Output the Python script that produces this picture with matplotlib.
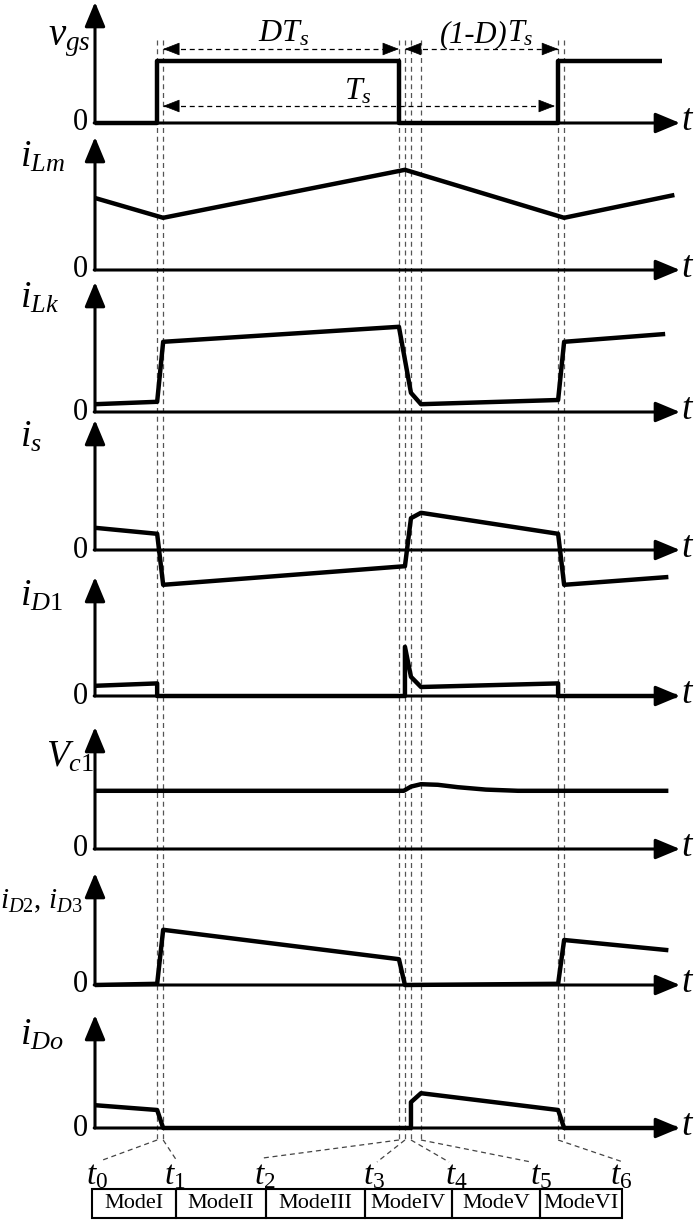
import matplotlib
matplotlib.use('Agg')
import matplotlib.pyplot as plt
from matplotlib.patches import Rectangle

plt.rcParams['font.family'] = ['Liberation Serif', 'DejaVu Serif']
plt.rcParams['mathtext.fontset'] = 'custom'
plt.rcParams['mathtext.rm'] = 'Liberation Serif'
plt.rcParams['mathtext.it'] = 'Liberation Serif:italic'
plt.rcParams['mathtext.bf'] = 'Liberation Serif:bold'

# ---------------- data (time in us, Ts = 10 us; amplitudes normalised) ----------------
event_times = [0.0, 0.15, 6.03, 6.18, 6.33, 6.58, 10.0, 10.15]
t_labels = [r'$t_{\mathit{0}}$', r'$t_{\mathit{1}}$', r'$t_{\mathit{2}}$', r'$t_{\mathit{3}}$',
            r'$t_{\mathit{4}}$', r'$t_{\mathit{5}}$', r'$t_{\mathit{6}}$']
mode_names = ['ModeI', 'ModeII', 'ModeIII', 'ModeIV', 'ModeV', 'ModeVI']

vgs_t = [-1.55, 0.0, 0.0, 6.03, 6.03, 10.0, 10.0, 12.6]
vgs_v = [0.0, 0.0, 1.03, 1.03, 0.0, 0.0, 1.03, 1.03]

iLm_t = [-1.55, 0.15, 6.18, 10.15, 12.9]
iLm_v = [1.2, 0.87, 1.67, 0.87, 1.25]

iLk_t = [-1.55, 0.0, 0.15, 6.03, 6.33, 6.58, 10.0, 10.15, 12.67]
iLk_v = [0.13, 0.17, 1.17, 1.42, 0.32, 0.13, 0.2, 1.17, 1.3]

is_t = [-1.55, 0.0, 0.15, 6.18, 6.33, 6.58, 10.0, 10.15, 12.75]
is_v = [0.37, 0.27, -0.58, -0.27, 0.53, 0.62, 0.27, -0.58, -0.45]

iD1_t = [-1.55, 0.0, 0.0, 6.18, 6.18, 6.33, 6.58, 10.0, 10.0, 12.95]
iD1_v = [0.17, 0.21, 0.0, 0.0, 0.82, 0.32, 0.15, 0.21, 0.0, 0.0]

vc1_t = [-1.55, 6.15, 6.33, 6.58, 7.0, 7.5, 8.2, 9.0, 12.75]
vc1_v = [0.97, 0.97, 1.04, 1.08, 1.07, 1.03, 0.99, 0.97, 0.97]

iD2_t = [-1.55, 0.0, 0.15, 6.03, 6.18, 10.0, 10.15, 12.75]
iD2_v = [0.0, 0.02, 0.92, 0.43, 0.0, 0.02, 0.75, 0.58]

iDo_t = [-1.55, 0.0, 0.15, 6.33, 6.33, 6.58, 10.0, 10.15, 12.95]
iDo_v = [0.38, 0.3, 0.0, 0.0, 0.43, 0.58, 0.3, 0.0, 0.0]

series_t = [vgs_t, iLm_t, iLk_t, is_t, iD1_t, vc1_t, iD2_t, iDo_t]
series_v = [vgs_v, iLm_v, iLk_v, is_v, iD1_v, vc1_v, iD2_v, iDo_v]
panel_labels = [r'$v_{gs}$', r'$i_{Lm}$', r'$i_{Lk}$', r'$i_{s}$', r'$i_{\mathit{D1}}$',
                r'$V_{\mathit{c1}}$', r'$i_{\mathit{D2}}$, $i_{\mathit{D3}}$', r'$i_{Do}$']

# ---------------- layout ----------------
W, H = 700, 1221
fig = plt.figure(figsize=(W / 100, H / 100), dpi=100)

AX_L, AX_R = 95, 680
T_L, T_R = -1.55, 13.04
PPU = (AX_R - AX_L) / (T_R - T_L)
YU = 60.0
PAD = 0.7
tops = [2, 137, 282, 420, 577, 727, 873, 1015]
bases = [123, 270, 412, 550, 696, 849, 985, 1128]
lab_pos = [(48, 45, 28), (20, 167, 27), (20, 308, 27), (20, 447, 27), (20, 606, 27),
           (46, 767, 27), (0, 908, 21), (20, 1045, 27)]


def tpx(px):
    return T_L + (px - AX_L) / PPU


def ftext(x, y, s, **kw):
    fig.text(x / W, 1 - y / H, s, **kw)


bg = fig.add_axes([0, 0, 1, 1])
bg.set_xlim(tpx(0), tpx(W))
bg.set_ylim(H, 0)
bg.axis('off')

# vertical dashed event lines
bg.vlines(event_times, 40, 1140, colors='#555555', linestyles=(0, (4, 3)), lw=0.9)

# dimension arrows
def dim(ta, tb, y):
    bg.plot([ta, tb], [y, y], ls=(0, (4, 3)), color='k', lw=0.9)
    hp = dict(arrowstyle='-|>,head_length=0.9,head_width=0.35', mutation_scale=12,
              color='k', lw=0.5, shrinkA=0, shrinkB=0)
    bg.annotate('', xy=(ta, y), xytext=(ta + 14 / PPU, y), arrowprops=hp)
    bg.annotate('', xy=(tb, y), xytext=(tb - 14 / PPU, y), arrowprops=hp)

dim(event_times[1], event_times[2], 49)
dim(event_times[3], event_times[6], 49)
dim(event_times[1], event_times[6] - 0.08, 106)
ftext(284, 42, r'$DT_s$', fontsize=23, ha='center', va='baseline')
fig.text(508 / W, 1 - 42 / H, '(1-D)', fontsize=22, style='italic', ha='right', va='baseline')
ftext(507, 42, r'$T_s$', fontsize=22, ha='left', va='baseline')
ftext(358, 99, r'$T_s$', fontsize=23, ha='center', va='baseline')

# panels
for i in range(8):
    top, base = tops[i], bases[i]
    bottom_px = base + PAD * YU
    ax = fig.add_axes([AX_L / W, 1 - bottom_px / H, (AX_R - AX_L) / W, (bottom_px - top) / H])
    ytop = (base - top) / YU
    ax.set_xlim(T_L, T_R)
    ax.set_ylim(-PAD, ytop)
    ax.axis('off')
    ap = dict(arrowstyle='-|>,head_length=0.6,head_width=0.25', lw=2.2, color='k',
              mutation_scale=25, shrinkA=0, shrinkB=0)
    ax.annotate('', xy=(T_L, ytop), xytext=(T_L, 0), arrowprops=ap, annotation_clip=False)
    ax.annotate('', xy=(T_R, 0), xytext=(T_L - 0.02, 0), arrowprops=ap, annotation_clip=False)
    ax.plot(series_t[i], series_v[i], color='k', lw=3.2, solid_joinstyle='round',
            solid_capstyle='butt', clip_on=False, zorder=3)
    lx, ly, fs = lab_pos[i]
    ftext(lx, ly, panel_labels[i], fontsize=fs, ha='left', va='baseline')
    ftext(88, base, '0', fontsize=22, ha='right', va='center')
    ftext(681, base - 2, r'$t$', fontsize=27, ha='left', va='center')

# fan lines to time labels
label_x = [97, 175, 265, 374, 456, 541, 621]
label_end = [(100, 1161), (177, 1161), (263, 1158), (377, 1162), (449, 1162), (531, 1162), (623, 1162)]
for k in range(7):
    ex, ey = label_end[k]
    bg.plot([event_times[k], tpx(ex)], [1140, ey], ls=(0, (4, 3)), color='#444444', lw=0.9)
    ftext(label_x[k], 1184, t_labels[k], fontsize=24, ha='center', va='baseline')

# mode boxes
bounds = [92, 176, 266, 365, 452, 540, 622]
for k in range(6):
    x0, x1 = bounds[k], bounds[k + 1]
    bg.add_patch(Rectangle((tpx(x0), 1189), tpx(x1) - tpx(x0), 29, fill=False,
                           edgecolor='k', lw=1.5))
    ftext((x0 + x1) / 2, 1204, mode_names[k], fontsize=16, ha='center', va='center')

fig.savefig('out.png', dpi=100)
